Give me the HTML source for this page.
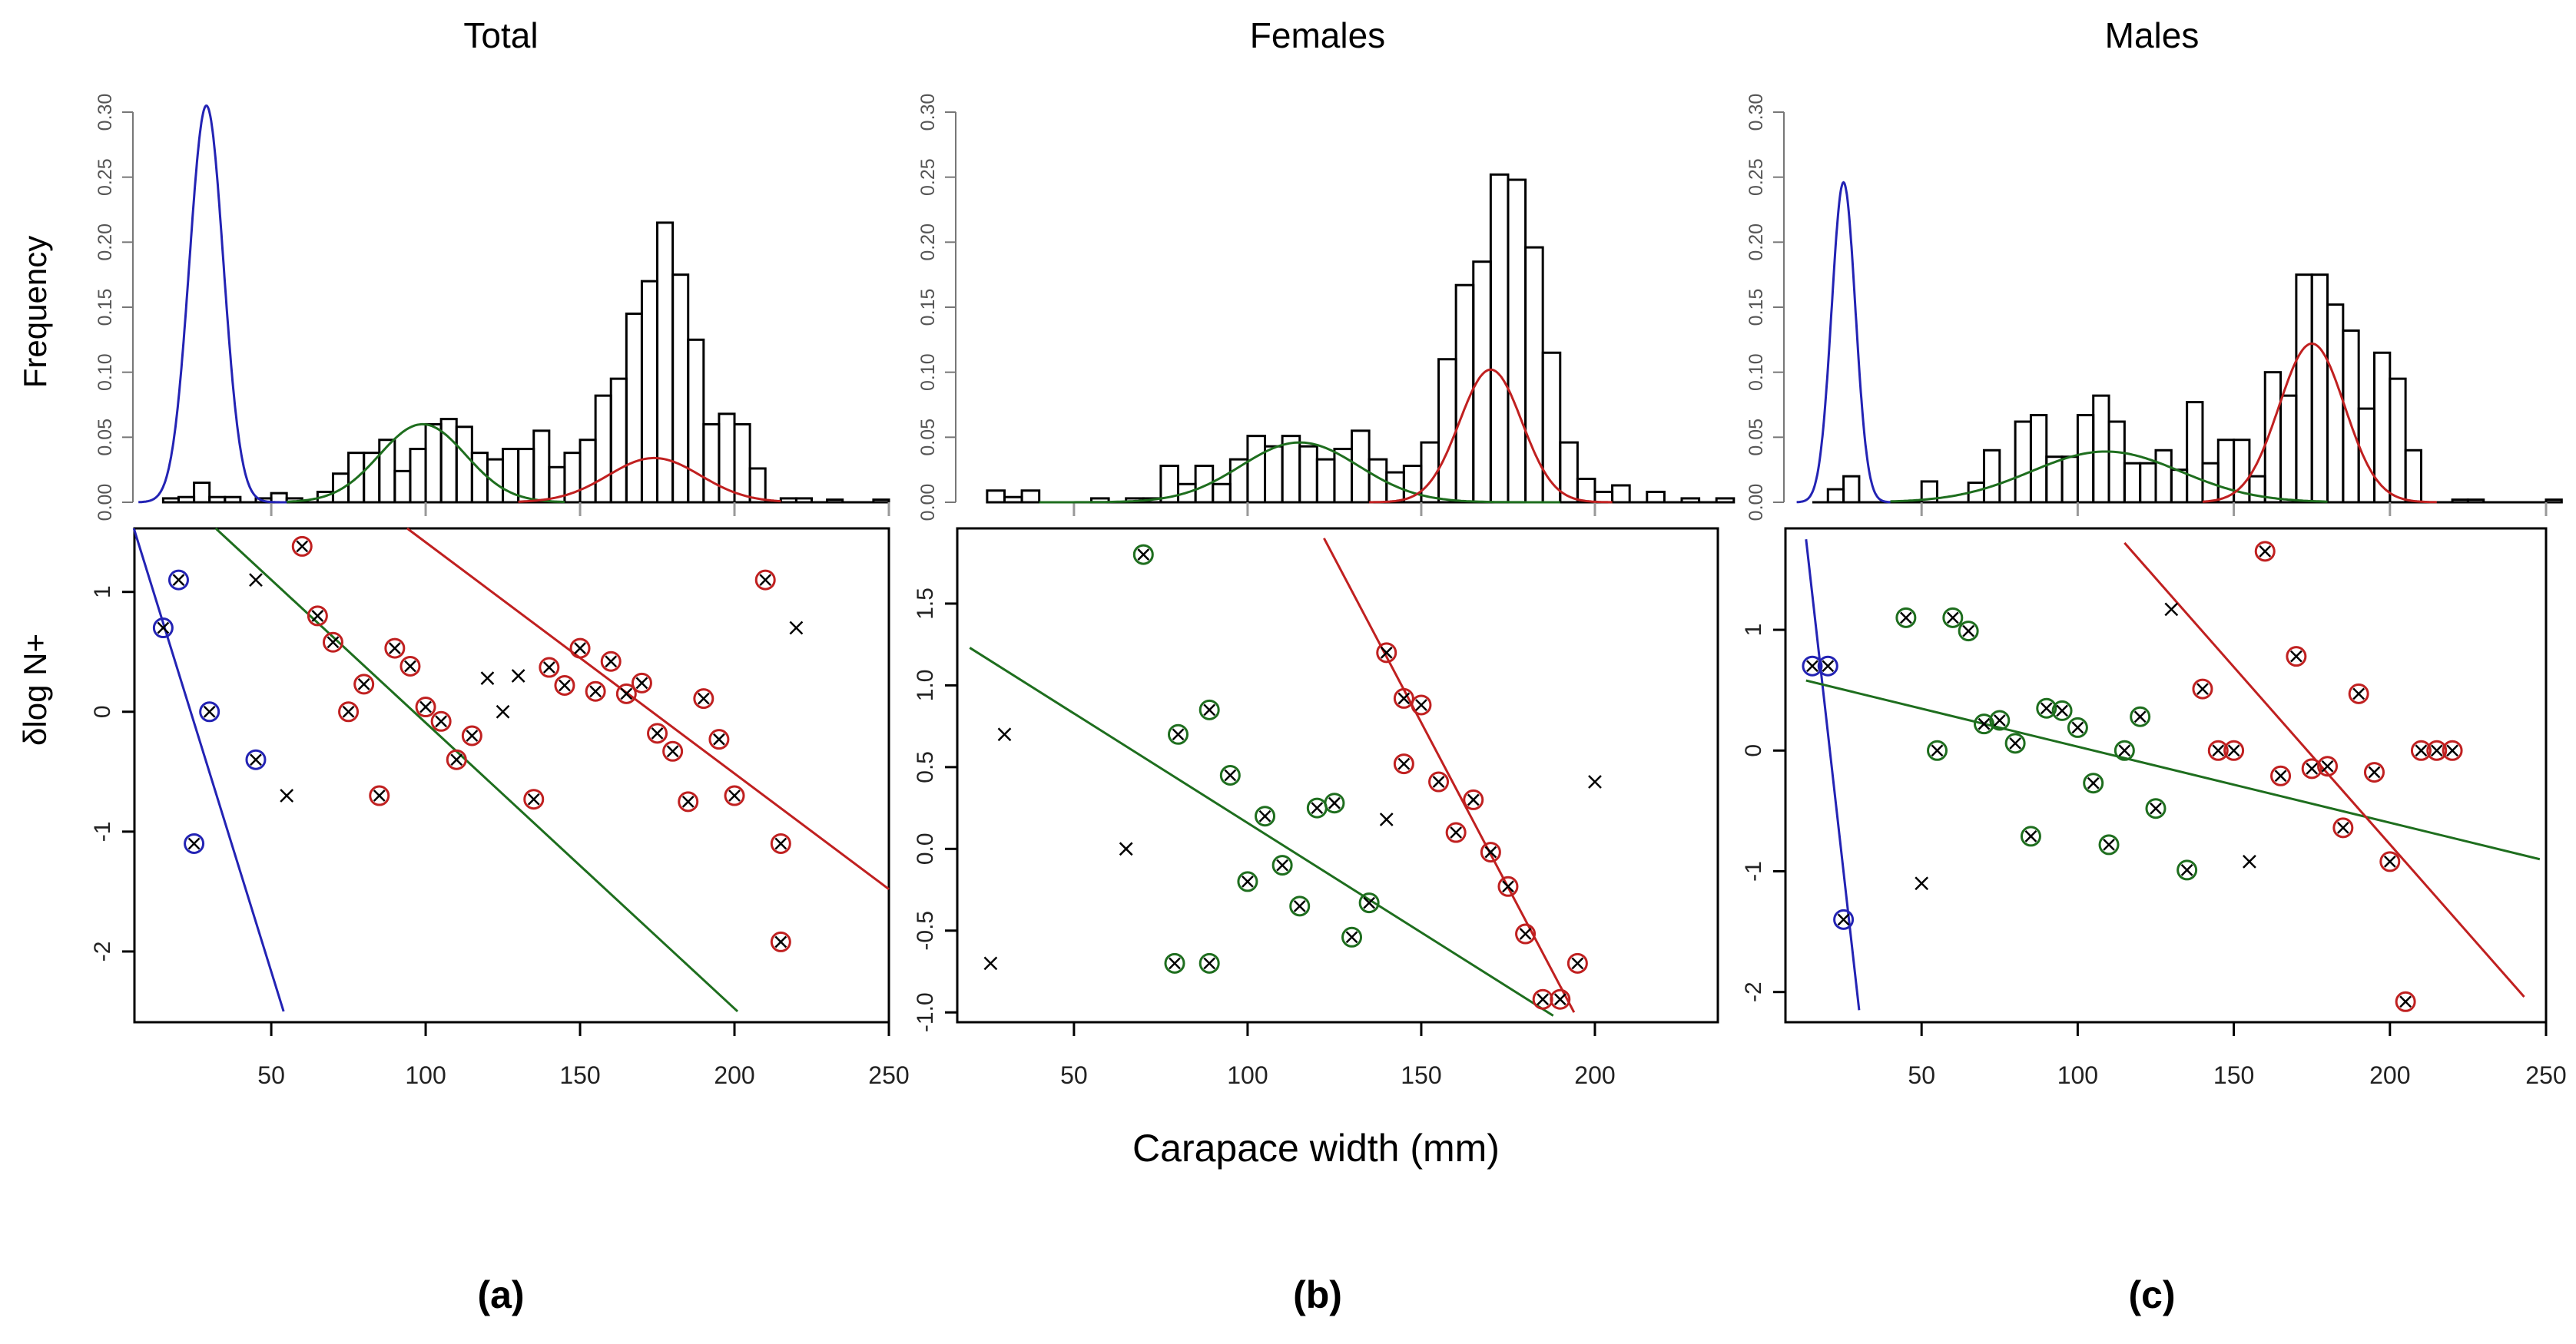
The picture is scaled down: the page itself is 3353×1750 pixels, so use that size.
<!DOCTYPE html>
<html><head><meta charset="utf-8"><style>
html,body{margin:0;padding:0;background:#fff;}
svg{display:block;font-family:"Liberation Sans",Arial,sans-serif;}
</style></head><body>
<svg id="fig" width="3353" height="1750" viewBox="0 0 3353 1750" xmlns="http://www.w3.org/2000/svg">
<text x="652" y="62" font-size="46" text-anchor="middle">Total</text>
<text x="1715" y="62" font-size="46" text-anchor="middle">Females</text>
<text x="2801" y="62" font-size="46" text-anchor="middle">Males</text>
<text transform="translate(60,406) rotate(-90)" font-size="42" text-anchor="middle">Frequency</text>
<text transform="translate(60,898) rotate(-90)" font-size="42" text-anchor="middle">δlog N+</text>
<text x="1713" y="1512" font-size="50" text-anchor="middle">Carapace width (mm)</text>
<text x="652" y="1703" font-size="50" font-weight="bold" text-anchor="middle">(a)</text>
<text x="1715" y="1703" font-size="50" font-weight="bold" text-anchor="middle">(b)</text>
<text x="2801" y="1703" font-size="50" font-weight="bold" text-anchor="middle">(c)</text>
</svg>
<script>
// ---- data ----
const binWidth = 5;
const histStartA = 15;
const histA = [0.003,0.004,0.015,0.004,0.004,0,0.003,0.007,0.003,0,0.008,0.022,0.038,0.038,0.048,0.024,0.041,0.06,0.064,0.058,0.038,0.033,0.041,0.041,0.055,0.027,0.038,0.048,0.082,0.095,0.145,0.17,0.215,0.175,0.125,0.06,0.068,0.06,0.026,0,0.003,0.003,0,0.002,0,0,0.002];
const histStartB = 25;
const histB = [0.009,0.004,0.009,0,0,0,0.003,0,0.003,0.003,0.028,0.014,0.028,0.014,0.033,0.051,0.043,0.051,0.043,0.033,0.041,0.055,0.033,0.023,0.028,0.046,0.11,0.167,0.185,0.252,0.248,0.196,0.115,0.046,0.018,0.008,0.013,0,0.008,0,0.003,0,0.003];
const histStartC = 20;
const histC = [0.01,0.02,0,0,0,0,0.016,0,0,0.015,0.04,0,0.062,0.067,0.035,0.035,0.067,0.082,0.062,0.03,0.03,0.04,0.025,0.077,0.03,0.048,0.048,0.02,0.1,0.082,0.175,0.175,0.152,0.132,0.072,0.115,0.095,0.04,0,0,0.002,0.002,0,0,0,0,0.002];
// gaussian components: [mean, sd, peak, from, to]
const gaussBlueA = [29,5.5,0.305,7,55];
const gaussGreenA = [99,14,0.06,55,145];
const gaussRedA = [174,15,0.034,130,215];
const gaussGreenB = [115,17,0.046,40,190];
const gaussRedB = [170,9,0.102,135,205];
const gaussBlueC = [25,3.8,0.246,10,40];
const gaussGreenC = [109,24,0.039,40,180];
const gaussRedC = [175,10.5,0.122,140,215];
// scatter points
const blueXA = [15,20,30,45,25];
const blueYA = [0.7,1.1,0,-0.4,-1.1];
const crossXA = [45,55,120,130,125,220];
const crossYA = [1.1,-0.7,0.28,0.3,0,0.7];
const redXA = [60,65,70,75,80,85,90,95,100,105,110,115,135,140,145,150,155,160,165,170,175,180,185,190,195,200,210,215,215];
const redYA = [1.38,0.8,0.58,0,0.23,-0.7,0.53,0.38,0.04,-0.08,-0.4,-0.2,-0.73,0.37,0.22,0.53,0.17,0.42,0.15,0.24,-0.18,-0.33,-0.75,0.11,-0.23,-0.7,1.1,-1.1,-1.92];
const crossXB = [26,30,65,140,200];
const crossYB = [-0.7,0.7,0,0.18,0.41];
const greenXB = [70,80,89,95,79,89,100,105,110,115,120,125,130,135];
const greenYB = [1.8,0.7,0.85,0.45,-0.7,-0.7,-0.2,0.2,-0.1,-0.35,0.25,0.28,-0.54,-0.33];
const redXB = [140,145,150,145,155,160,165,170,175,180,185,190,195];
const redYB = [1.2,0.92,0.88,0.52,0.41,0.1,0.3,-0.02,-0.23,-0.52,-0.92,-0.92,-0.7];
const blueXC = [15,20,25];
const blueYC = [0.7,0.7,-1.4];
const crossXC = [130,50,155];
const crossYC = [1.17,-1.1,-0.92];
const greenXC = [45,60,65,55,70,75,80,90,95,100,105,110,115,120,125,135,85];
const greenYC = [1.1,1.1,0.99,0,0.22,0.25,0.06,0.35,0.33,0.19,-0.27,-0.78,0,0.28,-0.48,-0.99,-0.71];
const redXC = [160,140,170,190,145,150,165,175,180,185,195,200,205,210,215,220];
const redYC = [1.65,0.51,0.78,0.47,0,0,-0.21,-0.15,-0.13,-0.64,-0.18,-0.92,-2.08,0,0,0];
// regression lines: [x1,y1,x2,y2]
const lineBlueA = [5.5,1.53,54,-2.5];
const lineGreenA = [32,1.53,201,-2.5];
const lineRedA = [94,1.53,250,-1.48];
const lineGreenB = [20,1.23,188,-1.02];
const lineRedB = [122,1.9,194,-1.0];
const lineBlueC = [13,1.75,30,-2.15];
const lineGreenC = [13,0.58,248,-0.9];
const lineRedC = [115,1.72,243,-2.04];
// tick labels
const xTicksAC = [50,100,150,200,250];
const xTicksB = [50,100,150,200];
const histYTicks = ["0.00","0.05","0.10","0.15","0.20","0.25","0.30"];
const yTicksA = [-2,-1,0,1];
const yTicksB = ["-1.0","-0.5","0.0","0.5","1.0","1.5"];
const yTicksC = [-2,-1,0,1];

// ---- drawing ----
const NS="http://www.w3.org/2000/svg";
const svg=document.getElementById('fig');
const BLUE="#2323b4",GREEN="#1e6e1e",RED="#c02020";
function mk(tag,attrs,parent){const e=document.createElementNS(NS,tag);for(const k in attrs)e.setAttribute(k,attrs[k]);(parent||svg).appendChild(e);return e;}
const HB=654, HT=146; // hist baseline & 0.30 y
const BT=688, BB=1331;
function panel(id,x0,x1,xd,yd,xt,yt,hStart,hVals,gauss,pts,lines,xAxFrom,xAxTo){
  const g=mk('g',{});
  
  
  const sx=v=>x0+(v-xd[0])/(xd[1]-xd[0])*(x1-x0);
  const sy=v=>BB-(v-yd[0])/(yd[1]-yd[0])*(BB-BT);
  const hy=v=>HB-v/0.30*(HB-HT);
  hVals.forEach((v,i)=>{
    if(v<=0) return;
    const a=hStart+i*binWidth;
    const r=mk('rect',{x:sx(a),y:hy(v),width:sx(a+binWidth)-sx(a),height:HB-hy(v),fill:'none',stroke:'#000','stroke-width':3},g);
    
    
  });
  const ha=mk('line',{x1:x0-2,y1:hy(0),x2:x0-2,y2:hy(0.30),stroke:'#777','stroke-width':2},g);
  
  
  histYTicks.forEach(t=>{
    const y=hy(+t);
    mk('line',{x1:x0-16,y1:y,x2:x0-2,y2:y,stroke:'#777','stroke-width':2},g);
    const tx=mk('text',{transform:`translate(${x0-30},${y}) rotate(-90)`,'font-size':25,'text-anchor':'middle',fill:'#555'},g);
    tx.textContent=t;
    
    
  });
  const hx=mk('line',{x1:sx(xAxFrom),y1:HB,x2:sx(xAxTo),y2:HB,stroke:'#000','stroke-width':3},g);
  
  
  xt.forEach(t=>{mk('line',{x1:sx(t),y1:HB,x2:sx(t),y2:HB+18,stroke:'#999','stroke-width':3},g);});
  gauss.forEach(([gc,col])=>{
    const [m,s,p,f,to]=gc;let d='';
    for(let k=0;k<=200;k++){const x=f+(to-f)*k/200;const v=p*Math.exp(-0.5*((x-m)/s)**2);d+=(k?'L':'M')+sx(x).toFixed(1)+','+hy(v).toFixed(1);}
    const pa=mk('path',{d:d,fill:'none',stroke:col,'stroke-width':3},g);
    
    
  });
  const bx=mk('rect',{x:x0,y:BT,width:x1-x0,height:BB-BT,fill:'none',stroke:'#000','stroke-width':3},g);
  
  
  xt.forEach(t=>{
    mk('line',{x1:sx(t),y1:BB,x2:sx(t),y2:BB+18,stroke:'#000','stroke-width':3},g);
    const tx=mk('text',{x:sx(t),y:BB+80,'font-size':32,'text-anchor':'middle',fill:'#222'},g);
    tx.textContent=t;
    
    
  });
  yt.forEach(t=>{
    const y=sy(+t);
    mk('line',{x1:x0-16,y1:y,x2:x0,y2:y,stroke:'#000','stroke-width':3},g);
    const tx=mk('text',{transform:`translate(${x0-32},${y}) rotate(-90)`,'font-size':30,'text-anchor':'middle',fill:'#222'},g);
    tx.textContent=t;
    
    
  });
  lines.forEach(([L,col])=>{
    const l=mk('line',{x1:sx(L[0]),y1:sy(L[1]),x2:sx(L[2]),y2:sy(L[3]),stroke:col,'stroke-width':3},g);
    
    
  });
  pts.forEach(([xs,ys,col])=>{
    xs.forEach((xv,i)=>{
      const cx=sx(xv),cy=sy(ys[i]);
      const pg=mk('g',{},g);
      
      
      if(col){mk('circle',{cx:cx,cy:cy,r:12,fill:'none',stroke:col,'stroke-width':3},pg);}
      const s=col?7:8;
      mk('path',{d:`M${cx-s},${cy-s}L${cx+s},${cy+s}M${cx-s},${cy+s}L${cx+s},${cy-s}`,stroke:'#000','stroke-width':2.5},pg);
    });
  });
}
panel('a',175,1157,[5.7,250],[-2.59,1.53],xTicksAC,yTicksA,histStartA,histA,
  [[gaussBlueA,BLUE],[gaussGreenA,GREEN],[gaussRedA,RED]],
  [[blueXA,blueYA,BLUE],[crossXA,crossYA,null],[redXA,redYA,RED]],
  [[lineBlueA,BLUE],[lineGreenA,GREEN],[lineRedA,RED]],15,250);
panel('b',1246,2236,[16.4,235.4],[-1.06,1.96],xTicksB,yTicksB,histStartB,histB,
  [[gaussGreenB,GREEN],[gaussRedB,RED]],
  [[crossXB,crossYB,null],[greenXB,greenYB,GREEN],[redXB,redYB,RED]],
  [[lineGreenB,GREEN],[lineRedB,RED]],25,235);
panel('c',2324,3314,[6.4,250],[-2.25,1.84],xTicksAC,yTicksC,histStartC,histC,
  [[gaussBlueC,BLUE],[gaussGreenC,GREEN],[gaussRedC,RED]],
  [[blueXC,blueYC,BLUE],[crossXC,crossYC,null],[greenXC,greenYC,GREEN],[redXC,redYC,RED]],
  [[lineBlueC,BLUE],[lineGreenC,GREEN],[lineRedC,RED]],15,250);
</script>
</body></html>
